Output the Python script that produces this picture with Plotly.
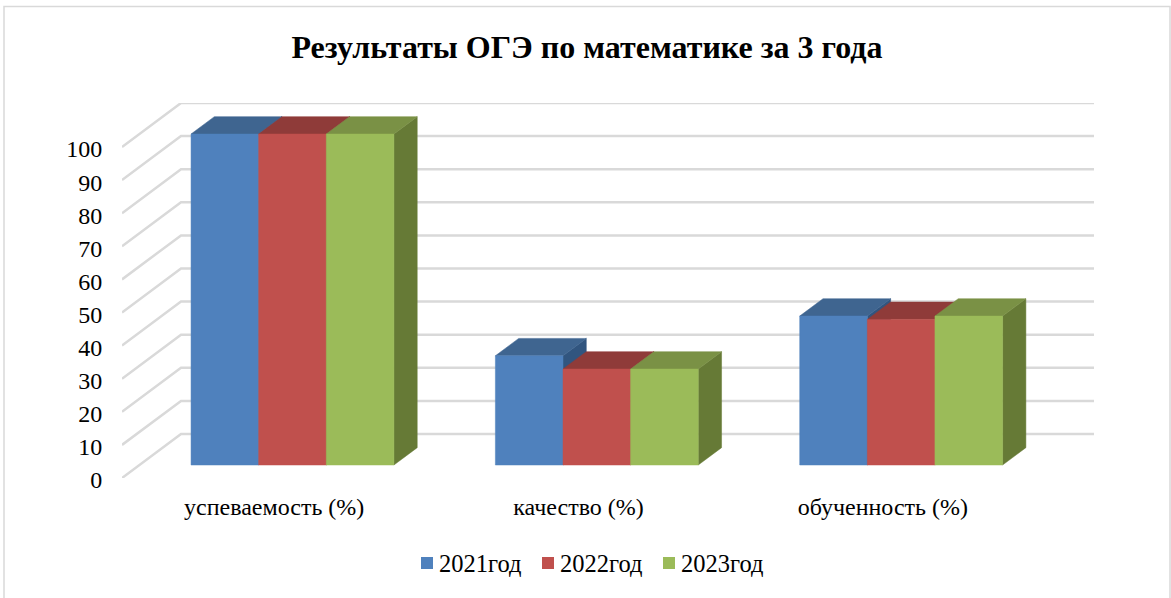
import plotly.graph_objects as go

title = "Результаты ОГЭ по математике за 3 года"
categories = ["успеваемость (%)", "качество (%)", "обученность (%)"]
series_names = ["2021год", "2022год", "2023год"]
values_2021 = [100, 33, 45]
values_2022 = [100, 29, 44]
values_2023 = [100, 29, 45]
y_ticks = [0, 10, 20, 30, 40, 50, 60, 70, 80, 90, 100]

front_colors = ["#4f81bd", "#c0504d", "#9bbb59"]
top_colors = ["#3f6590", "#8f3b39", "#7a9145"]
side_colors = ["#31557f", "#7d3432", "#667a36"]
GRID = "#d9d9d9"
TEXT = "#000000"
FONT = "Liberation Serif"

W, H = 1171, 598
ML, MR, MT, MB = 122, 77, 103, 120

# Oblique depth of the floor, in axis units
DEPTH_X = 59 / 304.25
DEPTH_Y = 44 / 3.31
BAR_D0 = 0.295   # front of bars, as fraction of floor depth
BAR_D1 = 0.69    # back of bars
BAR_W = 0.2222
BAR_NUDGE = 0.003
X_MIN, X_MAX = -0.5, 2.5

fig = go.Figure()

# Wall / floor gridlines
for v in y_ticks:
    fig.add_trace(go.Scatter(
        x=[X_MIN, X_MIN + DEPTH_X, X_MAX + DEPTH_X],
        y=[v, v + DEPTH_Y, v + DEPTH_Y],
        mode="lines", line=dict(color=GRID, width=2.5),
        showlegend=False, hoverinfo="skip"))


def face(xs, ys, color):
    fig.add_trace(go.Scatter(
        x=xs + xs[:1], y=ys + ys[:1], mode="lines", fill="toself",
        fillcolor=color, line=dict(color=color, width=0.5),
        showlegend=False, hoverinfo="skip"))


series = [values_2021, values_2022, values_2023]
for c in range(len(categories)):
    for s, vals in enumerate(series):
        v = vals[c]
        xl = c + (s - 1.5) * BAR_W + BAR_D0 * DEPTH_X + BAR_NUDGE
        xr = xl + BAR_W
        base = BAR_D0 * DEPTH_Y
        dx = (BAR_D1 - BAR_D0) * DEPTH_X
        dy = (BAR_D1 - BAR_D0) * DEPTH_Y
        top = base + v
        # side, top, then front
        face([xr, xr + dx, xr + dx, xr], [base, base + dy, top + dy, top], side_colors[s])
        face([xl, xr, xr + dx, xl + dx], [top, top, top + dy, top + dy], top_colors[s])
        face([xl, xr, xr, xl], [base, base, top, top], front_colors[s])

# Legend entries
for s, name in enumerate(series_names):
    fig.add_trace(go.Scatter(
        x=[None], y=[None], mode="markers", name=name,
        marker=dict(symbol="square", size=12, color=front_colors[s])))

fig.update_layout(
    width=W, height=H,
    margin=dict(l=ML, r=MR, t=MT, b=MB, autoexpand=False),
    paper_bgcolor="white", plot_bgcolor="white",
    font=dict(family=FONT, color=TEXT),
    title=dict(text=f"<b>{title}</b>", x=587 / W, xanchor="center", xref="container",
               y=1 - 47 / H, yanchor="middle", font=dict(family=FONT, size=32, color=TEXT)),
    showlegend=True,
    legend=dict(orientation="h", x=407 / W, xref="container", xanchor="left",
                y=1 - 563 / H, yref="container", yanchor="middle",
                font=dict(family=FONT, size=24.5, color=TEXT),
                entrywidth=76, entrywidthmode="pixels",
                itemclick=False, itemdoubleclick=False),
    xaxis=dict(range=[X_MIN, X_MAX + DEPTH_X], tickmode="array", tickvals=[0, 1, 2],
               ticktext=categories, showgrid=False, zeroline=False, showline=False,
               ticks="outside", ticklen=7, tickcolor="rgba(0,0,0,0)",
               tickfont=dict(family=FONT, size=24, color=TEXT), fixedrange=True),
    yaxis=dict(range=[0, 100 + DEPTH_Y], tickmode="array", tickvals=y_ticks,
               showgrid=False, zeroline=False, showline=False,
               ticks="outside", ticklen=14, tickcolor="rgba(0,0,0,0)",
               ticklabelshift=2,
               tickfont=dict(family=FONT, size=24, color=TEXT), fixedrange=True),
    shapes=[dict(type="rect", xref="paper", yref="paper",
                 x0=(4 - ML) / (W - ML - MR), x1=(1170 - ML) / (W - ML - MR),
                 y0=(H - MB - 640) / (H - MT - MB), y1=(H - MB - 6.5) / (H - MT - MB),
                 line=dict(color=GRID, width=1.5), fillcolor="rgba(0,0,0,0)", layer="below")],
)

post = """
document.body.style.margin='0';
document.documentElement.style.overflow='hidden';
document.querySelectorAll('.legend .legendtext').forEach(function(t){
  t.setAttribute('x', parseFloat(t.getAttribute('x')) - 8);
});
"""
fig.write_html("out.html", config={"displayModeBar": False}, post_script=post)
